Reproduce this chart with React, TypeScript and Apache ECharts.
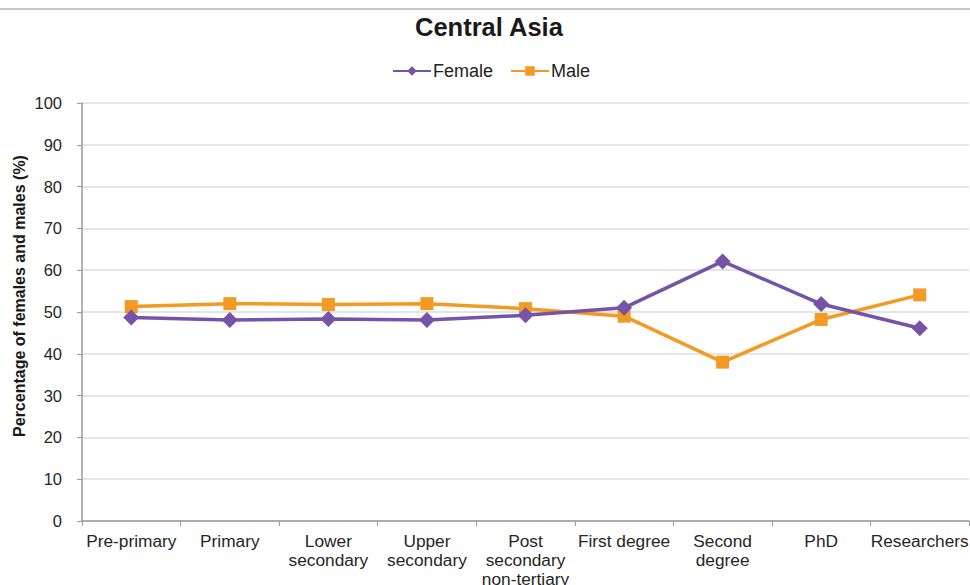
import React, { useEffect, useRef } from "react";
import * as echarts from "echarts";

const categories = [
  "Pre-primary",
  "Primary",
  "Lower\nsecondary",
  "Upper\nsecondary",
  "Post\nsecondary\nnon-tertiary",
  "First degree",
  "Second\ndegree",
  "PhD",
  "Researchers",
];
const femaleValues = [48.7, 48.1, 48.3, 48.1, 49.2, 51.0, 62.1, 51.9, 46.1];
const maleValues = [51.3, 52.0, 51.8, 52.0, 50.8, 49.0, 38.0, 48.2, 54.1];
const yTicks = { min: 0, max: 100, interval: 10 };
const yAxisTitle = "Percentage of females and males (%)";

export default function App() {
  const ref = useRef<HTMLDivElement>(null);
  useEffect(() => {
    if (!ref.current) return;
    const chart = echarts.init(ref.current, null, { renderer: "svg" });
    const font = "'Liberation Sans', Arial, sans-serif";
    chart.setOption({
      animation: false,
      textStyle: { fontFamily: font },
      title: {
        text: "Central Asia",
        left: 410,
        top: 9,
        textStyle: { fontSize: 25.5, fontWeight: "bold", color: "#1a1a1a", fontFamily: font },
      },
      legend: {
        left: 387,
        top: 57,
        itemWidth: 38,
        itemHeight: 12,
        itemGap: 17,
        textStyle: { fontSize: 18, color: "#222", fontFamily: font, padding: [0, 0, 0, -3] },
        data: ["Female", "Male"],
      },
      graphic: [
        {
          type: "line",
          shape: { x1: 0, y1: 9, x2: 970, y2: 9 },
          style: { stroke: "#c8c8c8", lineWidth: 2 },
        },
        {
          type: "text",
          x: 19,
          y: 296,
          rotation: Math.PI / 2,
          style: {
            text: yAxisTitle,
            fontSize: 16,
            fontWeight: "bold",
            fontFamily: font,
            fill: "#1a1a1a",
            textAlign: "center",
            textVerticalAlign: "middle",
          },
        },
      ],
      grid: {
        left: 82,
        right: 1,
        top: 103,
        bottom: 64,
        containLabel: false,
        outerBoundsMode: "none",
      },
      xAxis: {
        type: "category",
        data: categories,
        boundaryGap: true,
        axisLine: { lineStyle: { color: "#9a9a9a", width: 1.5 } },
        axisTick: { show: true, length: 5, lineStyle: { color: "#9a9a9a" } },
        axisLabel: {
          interval: 0,
          margin: 10,
          fontSize: 17.3,
          lineHeight: 19,
          color: "#262626",
          fontFamily: font,
        },
      },
      yAxis: {
        type: "value",
        min: yTicks.min,
        max: yTicks.max,
        interval: yTicks.interval,
        axisLine: { show: true, lineStyle: { color: "#9a9a9a", width: 1.5 } },
        axisTick: { show: true, length: 5, lineStyle: { color: "#9a9a9a" } },
        axisLabel: { fontSize: 16.5, margin: 20, color: "#262626", fontFamily: font },
        splitLine: { lineStyle: { color: "#dcdcdc", width: 1.5 } },
      },
      series: [
        {
          name: "Female",
          type: "line",
          data: femaleValues,
          symbol: "diamond",
          symbolSize: 16,
          lineStyle: { color: "#7553a6", width: 3.5 },
          itemStyle: { color: "#7553a6" },
          z: 3,
        },
        {
          name: "Male",
          type: "line",
          data: maleValues,
          symbol: "rect",
          symbolSize: 13,
          lineStyle: { color: "#f39a24", width: 3.5 },
          itemStyle: { color: "#f39a24" },
          z: 2,
        },
      ],
    });
    return () => chart.dispose();
  }, []);
  return (
    <div
      ref={ref}
      style={{ position: "fixed", left: 0, top: 0, width: 970, height: 585, background: "#fff" }}
    />
  );
}
